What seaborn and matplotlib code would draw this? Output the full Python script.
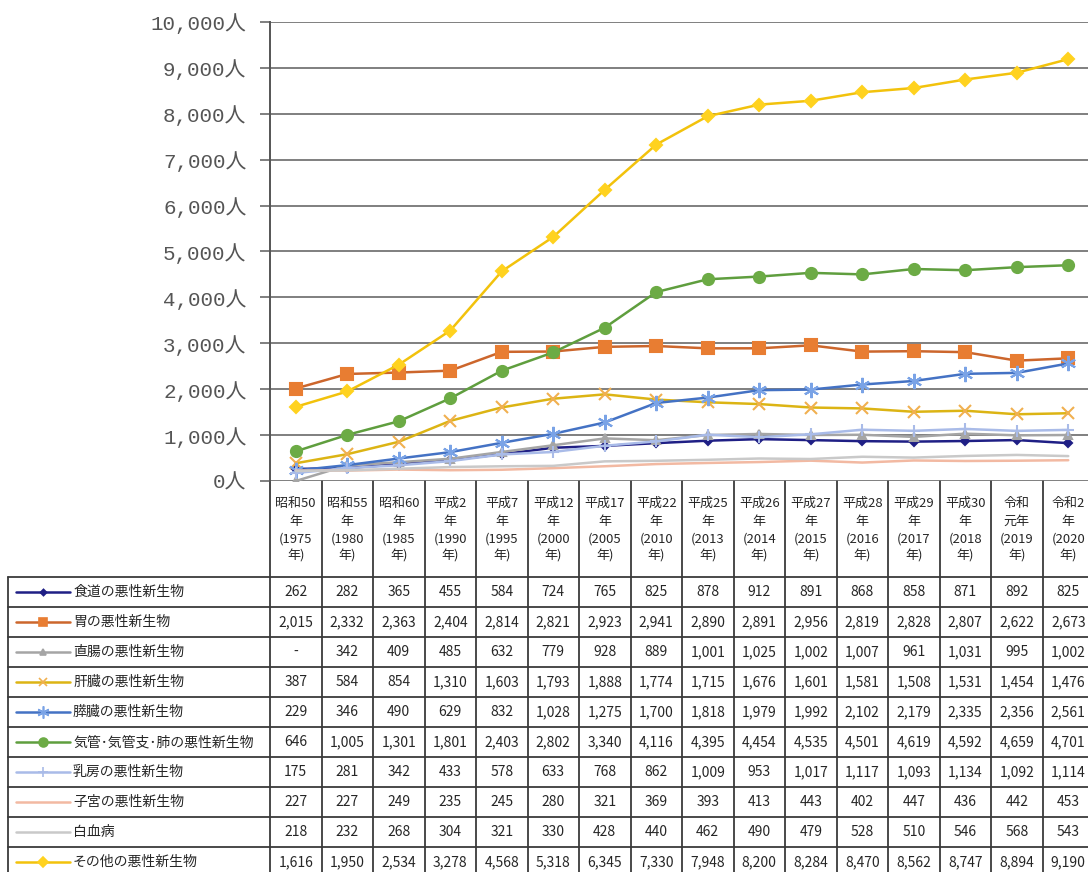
# ===============================
# 1. Imports / Setup
# ===============================
import numpy as np
import pandas as pd
import matplotlib
matplotlib.use("Agg")
import matplotlib.pyplot as plt
import seaborn as sns

sns.set_theme(style="white")
plt.rcParams["font.family"] = ["Noto Sans CJK JP", "DejaVu Sans"]

# ===============================
# 2. Data
# ===============================
eras = ["昭和50\n年", "昭和55\n年", "昭和60\n年", "平成2\n年", "平成7\n年", "平成12\n年",
        "平成17\n年", "平成22\n年", "平成25\n年", "平成26\n年", "平成27\n年", "平成28\n年",
        "平成29\n年", "平成30\n年", "令和\n元年", "令和2\n年"]
years = [1975, 1980, 1985, 1990, 1995, 2000, 2005, 2010, 2013, 2014, 2015, 2016, 2017, 2018, 2019, 2020]

series_names = ["食道の悪性新生物", "胃の悪性新生物", "直腸の悪性新生物", "肝臓の悪性新生物",
                "膵臓の悪性新生物", "気管･気管支･肺の悪性新生物", "乳房の悪性新生物",
                "子宮の悪性新生物", "白血病", "その他の悪性新生物"]

esophagus = [262, 282, 365, 455, 584, 724, 765, 825, 878, 912, 891, 868, 858, 871, 892, 825]
stomach = [2015, 2332, 2363, 2404, 2814, 2821, 2923, 2941, 2890, 2891, 2956, 2819, 2828, 2807, 2622, 2673]
rectum = [None, 342, 409, 485, 632, 779, 928, 889, 1001, 1025, 1002, 1007, 961, 1031, 995, 1002]
liver = [387, 584, 854, 1310, 1603, 1793, 1888, 1774, 1715, 1676, 1601, 1581, 1508, 1531, 1454, 1476]
pancreas = [229, 346, 490, 629, 832, 1028, 1275, 1700, 1818, 1979, 1992, 2102, 2179, 2335, 2356, 2561]
lung = [646, 1005, 1301, 1801, 2403, 2802, 3340, 4116, 4395, 4454, 4535, 4501, 4619, 4592, 4659, 4701]
breast = [175, 281, 342, 433, 578, 633, 768, 862, 1009, 953, 1017, 1117, 1093, 1134, 1092, 1114]
uterus = [227, 227, 249, 235, 245, 280, 321, 369, 393, 413, 443, 402, 447, 436, 442, 453]
leukemia = [218, 232, 268, 304, 321, 330, 428, 440, 462, 490, 479, 528, 510, 546, 568, 543]
other = [1616, 1950, 2534, 3278, 4568, 5318, 6345, 7330, 7948, 8200, 8284, 8470, 8562, 8747, 8894, 9190]

all_series = [esophagus, stomach, rectum, liver, pancreas, lung, breast, uterus, leukemia, other]

# line color, marker, marker color, marker size
styles = [
    ("#1f1f85", "D", "#1f1f85", 4),
    ("#cc662c", "s", "#e87d32", 8),
    ("#a5a5a5", "^", "#a5a5a5", 6),
    ("#dcb414", "x", "#f0b050", 8),
    ("#4472c4", (6, 2, 0), "#7aa3e6", 11),
    ("#5f9e3e", "o", "#6cab45", 8),
    ("#a9bbe8", "+", "#a9bbe8", 9),
    ("#f2b9a2", "None", "#f2b9a2", 4),
    ("#c9c9c9", "None", "#c9c9c9", 4),
    ("#f2c20c", "D", "#ffd21f", 6),
]

# ===============================
# 3. Layout (pixels)
# ===============================
W, H = 1088, 872
COL0, COLW = 270, 51.5
HDR_TOP, ROW_TOP, ROWH = 481, 577, 30
TABLE_LEFT = 8
PLOT_TOP = 22
ncol = len(years)
right_edge = COL0 + ncol * COLW

fig = plt.figure(figsize=(W / 100, H / 100), dpi=100)

# overlay axes for the data table
tab = fig.add_axes([0, 0, 1, 1])
tab.set_xlim(0, W)
tab.set_ylim(H, 0)
tab.axis("off")
tab.patch.set_alpha(0)

ax = fig.add_axes([COL0 / W, 1 - HDR_TOP / H, (right_edge - COL0) / W, (HDR_TOP - PLOT_TOP) / H])
ax.patch.set_alpha(0)

# ===============================
# 4. Lines
# ===============================
xpos = np.arange(ncol)
for name, vals, (lc, mk, mc, ms) in zip(series_names, all_series, styles):
    # Excel draws the "-" cell as zero
    yv = [0 if v is None else v for v in vals]
    sns.lineplot(x=xpos, y=yv, ax=ax, color=lc, linewidth=1.8, marker=mk,
                 markersize=ms, markerfacecolor=mc, markeredgecolor=mc,
                 markeredgewidth=1.5, legend=False, sort=False)

ax.set_xlim(-0.5, ncol - 0.5)
ax.set_ylim(0, 10000)
ax.set_yticks(np.arange(0, 10001, 1000))
ax.set_yticklabels([f"{v:,}人" for v in range(0, 10001, 1000)],
                   family=["Liberation Mono", "Noto Sans CJK JP"], fontsize=15, color="#555555")
ax.set_xticks([])
ax.set_xlabel("")
ax.set_ylabel("")
ax.grid(axis="y", color="#6a6a6a", linewidth=1.2)
ax.tick_params(axis="y", left=True, length=7, width=1.2, color="#6a6a6a", pad=10)
for s in ["top", "right", "bottom"]:
    ax.spines[s].set_visible(False)
ax.spines["left"].set_color("#555555")
ax.spines["left"].set_linewidth(1.4)

# ===============================
# 5. Data table
# ===============================
line_kw = dict(color="#3a3a3a", linewidth=1.3)
table_bottom = ROW_TOP + ROWH * len(series_names)

# header cells
for i in range(ncol + 1):
    x = COL0 + i * COLW
    tab.plot([x, x], [HDR_TOP, table_bottom], **line_kw)
for i, (era, yr) in enumerate(zip(eras, years)):
    cx = COL0 + (i + 0.5) * COLW
    tab.text(cx, (HDR_TOP + ROW_TOP) / 2 + 1, f"{era}\n({yr}\n年)", ha="center", va="center",
             fontsize=9.4, linespacing=1.45, color="#262626")

# row lines
tab.plot([TABLE_LEFT, TABLE_LEFT], [ROW_TOP, table_bottom], **line_kw)
for r in range(len(series_names) + 1):
    y = ROW_TOP + r * ROWH
    tab.plot([TABLE_LEFT, right_edge], [y, y], **line_kw)

# legend keys, labels and values
for r, (name, vals, (lc, mk, mc, ms)) in enumerate(zip(series_names, all_series, styles)):
    cy = ROW_TOP + (r + 0.5) * ROWH
    tab.plot([16, 70], [cy, cy], color=lc, linewidth=1.8)
    tab.plot([43], [cy], marker=mk, color=mc, markersize=ms * 0.8, markeredgewidth=1.2)
    tab.text(73, cy, name, ha="left", va="center", fontsize=10, color="#262626")
    for i, v in enumerate(vals):
        cx = COL0 + (i + 0.5) * COLW
        label = "-" if v is None else f"{v:,}"
        tab.text(cx, cy, label, ha="center", va="center", fontsize=10, color="#262626")

fig.savefig("out.png", dpi=100)
